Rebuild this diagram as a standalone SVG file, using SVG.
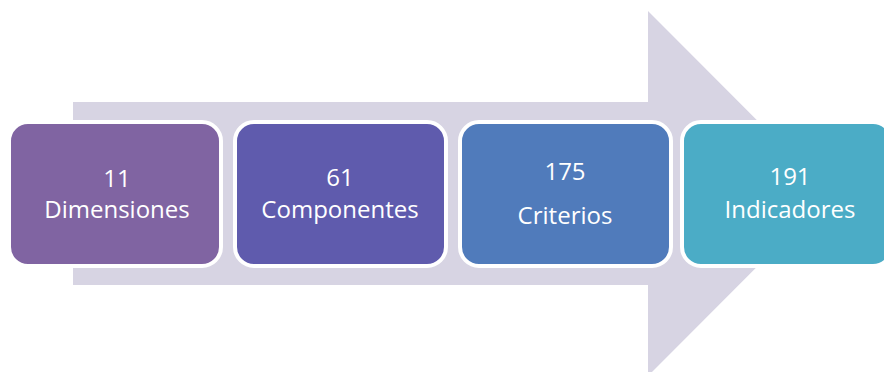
<svg xmlns="http://www.w3.org/2000/svg" width="884" height="372" viewBox="0 0 884 372">
<style>
.box{stroke:#ffffff;stroke-width:4}
.t{font-family:"Open Sans","Liberation Sans",sans-serif;font-size:24px;fill:#ffffff;text-anchor:middle}
</style>
<rect width="884" height="372" fill="#ffffff"/>
<g id="arrow">
<polygon points="73,102 648,102 648,11 830,193.5 648,376 648,285 73,285" fill="#d7d4e3"/>
</g>
<g id="node1">
<rect class="box" x="9" y="122" width="212" height="144" rx="19" fill="#8064a2"/>
<text class="t" x="117" y="187">11</text>
<text class="t" x="117" y="218">Dimensiones</text>
</g>
<g id="node2">
<rect class="box" x="235" y="122" width="211" height="144" rx="19" fill="#5f5bad"/>
<text class="t" x="340" y="186">61</text>
<text class="t" x="340" y="218">Componentes</text>
</g>
<g id="node3">
<rect class="box" x="460" y="122" width="211" height="144" rx="19" fill="#507bbb"/>
<text class="t" x="565" y="180">175</text>
<text class="t" x="565" y="224">Criterios</text>
</g>
<g id="node4">
<rect class="box" x="682" y="122" width="210" height="144" rx="19" fill="#4bacc6"/>
<text class="t" x="790" y="185">191</text>
<text class="t" x="790" y="218">Indicadores</text>
</g>
</svg>
